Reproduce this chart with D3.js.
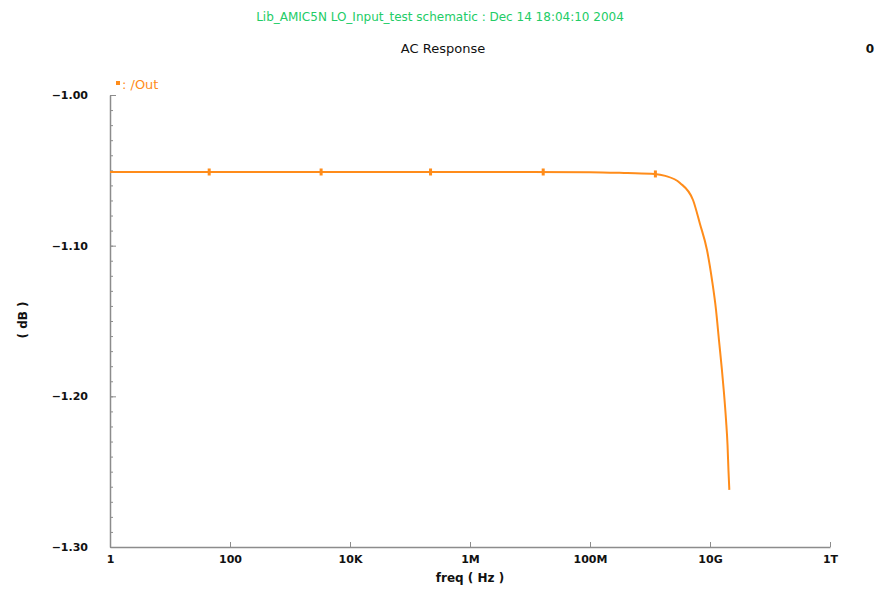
<!DOCTYPE html>
<html>
<head>
<meta charset="utf-8">
<script src="https://cdn.jsdelivr.net/npm/d3@7"></script>
<style>
	body { margin: 0; background: #fff; }
	svg { display: block; }
	.axis path, .axis line { stroke: #8c8c8c; }
	.axis text { font-family: "DejaVu Sans", sans-serif; font-size: 11px; font-weight: bold; fill: #111; }
</style>
</head>
<body>
<div id="chart"></div>
<script>
const width = 876, height = 589;

// AC response of /Out
const freq = [1, 10, 100, 1e3, 1e4, 1e5, 1e6, 1e7, 1e8, 4.2e8, 1.2e9, 1.8e9, 3.16e9, 5.21e9,
	6.81e9, 8.91e9, 1.08e10, 1.26e10, 1.41e10, 1.58e10, 1.71e10, 1.85e10, 1.96e10, 2.03e10, 2.1e10];
const dB = [-1.0511, -1.0511, -1.0511, -1.0511, -1.0511, -1.0511, -1.0511, -1.0511, -1.0512, -1.0518,
	-1.0524, -1.0537, -1.0584, -1.0697, -1.0856, -1.1029, -1.1228, -1.1427, -1.1626, -1.1825,
	-1.1978, -1.2157, -1.2323, -1.2489, -1.2621];

// data point markers along the trace
const markerFreq = [45, 3.3e3, 2.2e5, 1.66e7, 1.23e9];
const markerDb = [-1.0511, -1.0511, -1.0511, -1.0511, -1.0524];

const xTicks = [1, 100, 1e4, 1e6, 1e8, 1e10, 1e12];
const xTickLabels = ["1", "100", "10K", "1M", "100M", "10G", "1T"];
const yTicks = [-1.0, -1.1, -1.2, -1.3];

const svg = d3.select("#chart").append("svg")
	.attr("width", width)
	.attr("height", height);

const x = d3.scaleLog()
	.domain([1, 1e12])
	.range([110, 830]);

const y = d3.scaleLinear()
	.domain([-1.3, -1.0])
	.range([547, 95]);

// titles
svg.append("text")
	.attr("x", 440).attr("y", 21)
	.attr("text-anchor", "middle")
	.style("font-family", "DejaVu Sans, sans-serif")
	.style("font-size", "12px")
	.style("fill", "#22cc66")
	.text("Lib_AMIC5N LO_Input_test schematic : Dec 14 18:04:10 2004");

svg.append("text")
	.attr("x", 443).attr("y", 53)
	.attr("text-anchor", "middle")
	.style("font-family", "DejaVu Sans, sans-serif")
	.style("font-size", "13px")
	.style("fill", "#111")
	.text("AC Response");

svg.append("text")
	.attr("x", 870).attr("y", 53)
	.attr("text-anchor", "middle")
	.style("font-family", "DejaVu Sans, sans-serif")
	.style("font-size", "12px")
	.style("font-weight", "bold")
	.style("fill", "#111")
	.text("0");

// x axis
const xAxis = d3.axisTop(x)
	.tickValues(xTicks)
	.tickSizeInner(5)
	.tickSizeOuter(0)
	.tickFormat((d, i) => xTickLabels[i]);

const gX = svg.append("g")
	.attr("class", "axis axis--x")
	.attr("transform", `translate(0,${y(-1.3)})`)
	.call(xAxis);

gX.select(".domain").attr("stroke-width", 1.5);
gX.selectAll("text")
	.attr("y", 16)
	.attr("dy", "0");

// y axis: minor ticks every 0.01
const yMinor = d3.range(-1.3, -0.9999, 0.01);

svg.append("g")
	.attr("class", "axis axis--y-minor")
	.attr("transform", `translate(${x(1)},0)`)
	.call(d3.axisRight(y).tickValues(yMinor).tickSizeInner(3).tickSizeOuter(0).tickFormat(() => ""))
	.select(".domain").remove();

const gY = svg.append("g")
	.attr("class", "axis axis--y")
	.attr("transform", `translate(${x(1)},0)`)
	.call(d3.axisRight(y).tickValues(yTicks).tickSizeInner(6).tickSizeOuter(0).tickFormat(d3.format(".2f")));

gY.select(".domain").attr("stroke-width", 1.5);
gY.selectAll("text")
	.attr("x", -22)
	.attr("text-anchor", "end")
	.text(d => "\u2212" + d3.format(".2f")(-d));

// axis titles
svg.append("text")
	.attr("x", 470).attr("y", 582)
	.attr("text-anchor", "middle")
	.style("font-family", "DejaVu Sans, sans-serif")
	.style("font-size", "12px")
	.style("font-weight", "bold")
	.style("fill", "#111")
	.text("freq ( Hz )");

svg.append("text")
	.attr("transform", "translate(27,320) rotate(-90)")
	.attr("text-anchor", "middle")
	.style("font-family", "DejaVu Sans, sans-serif")
	.style("font-size", "12px")
	.style("font-weight", "bold")
	.style("fill", "#111")
	.text("( dB )");

// trace
const orange = "#ff8c1a";
const pts = freq.map((f, i) => ({ f: f, v: dB[i] }));

svg.append("path")
	.datum(pts)
	.attr("fill", "none")
	.attr("stroke", orange)
	.attr("stroke-width", 2)
	.attr("d", d3.line().curve(d3.curveMonotoneX).x(d => x(d.f)).y(d => y(d.v)));

svg.selectAll("rect.marker")
	.data(markerFreq.map((f, i) => ({ f: f, v: markerDb[i] })))
	.enter()
	.append("rect")
	.attr("class", "marker")
	.attr("x", d => x(d.f) - 1.5)
	.attr("y", d => y(d.v) - 3.5)
	.attr("width", 3)
	.attr("height", 7)
	.attr("fill", orange);

// legend
svg.append("rect")
	.attr("x", 116).attr("y", 81)
	.attr("width", 4).attr("height", 4)
	.attr("fill", orange);

svg.append("text")
	.attr("x", 122).attr("y", 89)
	.style("font-family", "DejaVu Sans, sans-serif")
	.style("font-size", "13px")
	.style("fill", orange)
	.text(": /Out");
</script>
</body>
</html>
